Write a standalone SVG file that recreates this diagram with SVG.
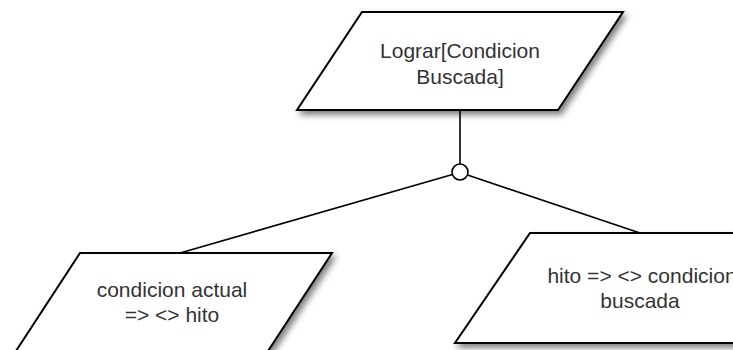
<svg xmlns="http://www.w3.org/2000/svg" width="733" height="350" viewBox="0 0 733 350">
<style>
.shape{fill:#fff;stroke:#000;stroke-width:2;filter:url(#sh)}
.lbl{font-family:"Liberation Sans",Arial,sans-serif;font-size:21px;fill:#333;text-anchor:middle}
.conn{stroke:#000;stroke-width:1.6;fill:none}
</style>
<defs>
<filter id="sh" x="-20%" y="-20%" width="150%" height="160%">
<feDropShadow dx="3" dy="4" stdDeviation="3" flood-color="#000" flood-opacity="0.5"/>
</filter>
</defs>
<rect width="733" height="350" fill="#fff"/>
<g id="connectors">
<line class="conn" x1="460" y1="110" x2="460" y2="164"/>
<line class="conn" x1="452.5" y1="174.5" x2="180" y2="253"/>
<line class="conn" x1="467.5" y1="175" x2="640" y2="233"/>
<circle cx="460" cy="172" r="8" fill="#fff" stroke="#000" stroke-width="1.6"/>
</g>
<g id="node-top">
<polygon class="shape" points="362,12 623,12 558,110 297,110"/>
<text class="lbl" x="460" y="58">Lograr[Condicion</text>
<text class="lbl" x="460" y="84">Buscada]</text>
</g>
<g id="node-left">
<polygon class="shape" points="80,253 332,253 268,351 16,351"/>
<text class="lbl" x="172" y="297">condicion actual</text>
<text class="lbl" x="172" y="322">=&gt; &lt;&gt; hito</text>
</g>
<g id="node-right">
<polygon class="shape" points="530,233 824,233 749,343 455,343"/>
<text class="lbl" x="642" y="283">hito =&gt; &lt;&gt; condicion</text>
<text class="lbl" x="640" y="308">buscada</text>
</g>
</svg>
